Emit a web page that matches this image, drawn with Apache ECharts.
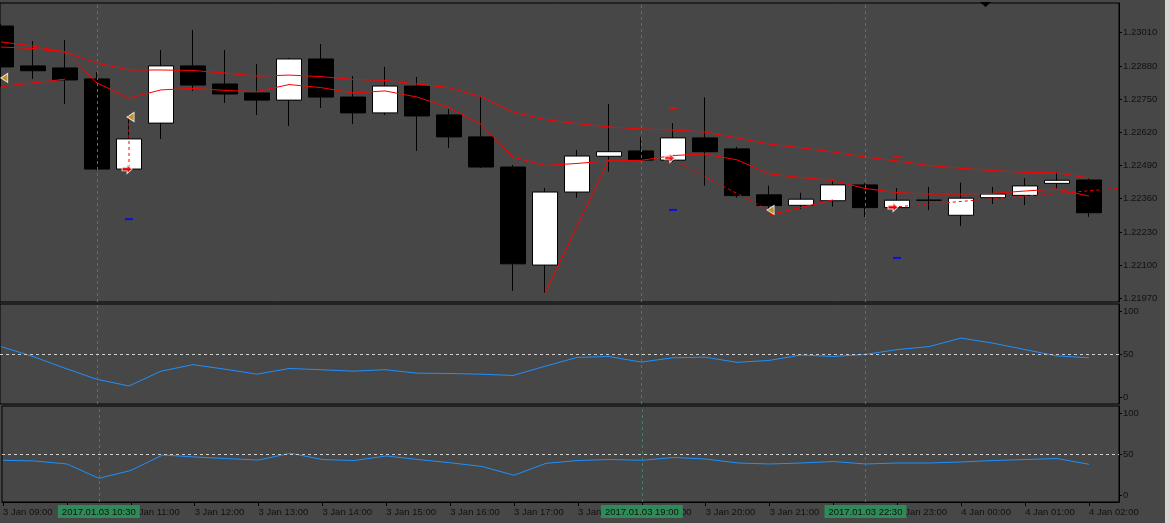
<!DOCTYPE html>
<html>
<head>
    <meta charset="utf-8">
    <title>EURUSD M30</title>
    <script src="https://cdn.jsdelivr.net/npm/echarts@6.0.0/dist/echarts.min.js"></script>
    <style>
        html, body { margin: 0; padding: 0; background: #474747; }
        #main { width: 1169px; height: 523px; }
    </style>
</head>
<body>
<div id="main"></div>
<script type="text/javascript">
    // bar labels on the time axis (one every 2 bars, M30)
    var timeLabels = ['3 Jan 09:00', '3 Jan 10:00', '3 Jan 11:00', '3 Jan 12:00', '3 Jan 13:00', '3 Jan 14:00',
        '3 Jan 15:00', '3 Jan 16:00', '3 Jan 17:00', '3 Jan 18:00', '3 Jan 19:00', '3 Jan 20:00', '3 Jan 21:00',
        '3 Jan 22:00', '3 Jan 23:00', '4 Jan 00:00', '4 Jan 01:00', '4 Jan 02:00'];

    // OHLC, one entry per bar
    var opens = [1.23036, 1.22880, 1.22872, 1.22829, 1.22476, 1.22656, 1.22880, 1.22809, 1.22774, 1.22746,
        1.22907, 1.22758, 1.22696, 1.22801, 1.22688, 1.22602, 1.22484, 1.22100, 1.22386, 1.22526,
        1.22547, 1.22511, 1.22598, 1.22555, 1.22375, 1.22334, 1.22352, 1.22414, 1.22325, 1.22354,
        1.22295, 1.22364, 1.22373, 1.22420, 1.22433];
    var highs = [1.23044, 1.22977, 1.22981, 1.22856, 1.22688, 1.22942, 1.23021, 1.22942, 1.22887, 1.22911,
        1.22966, 1.22840, 1.22876, 1.22837, 1.22711, 1.22761, 1.22492, 1.22402, 1.22551, 1.22731,
        1.22602, 1.22656, 1.22757, 1.22563, 1.22411, 1.22383, 1.22433, 1.22421, 1.22402, 1.22406,
        1.22423, 1.22406, 1.22440, 1.22463, 1.22440];
    var lows = [1.22797, 1.22829, 1.22731, 1.22472, 1.22472, 1.22594, 1.22782, 1.22735, 1.22688, 1.22645,
        1.22715, 1.22652, 1.22688, 1.22547, 1.22559, 1.22480, 1.21999, 1.21991, 1.22364, 1.22466,
        1.22508, 1.22504, 1.22411, 1.22364, 1.22312, 1.22320, 1.22329, 1.22288, 1.22320, 1.22315,
        1.22253, 1.22339, 1.22335, 1.22399, 1.22289];
    var closes = [1.22876, 1.22861, 1.22825, 1.22476, 1.22594, 1.22880, 1.22805, 1.22770, 1.22746, 1.22907,
        1.22758, 1.22696, 1.22801, 1.22684, 1.22602, 1.22484, 1.22105, 1.22386, 1.22527, 1.22544,
        1.22511, 1.22598, 1.22544, 1.22372, 1.22333, 1.22358, 1.22414, 1.22325, 1.22354, 1.22354,
        1.22362, 1.22378, 1.22410, 1.22432, 1.22305];

    // moving averages
    var maSlow = [1.22974, 1.22958, 1.22934, 1.22891, 1.22864, 1.22864, 1.22862, 1.22852, 1.22840, 1.22844,
        1.22838, 1.22827, 1.22823, 1.22809, 1.22795, 1.22759, 1.22700, 1.22670, 1.22654, 1.22641,
        1.22633, 1.22629, 1.22621, 1.22598, 1.22574, 1.22559, 1.22543, 1.22523, 1.22508, 1.22490,
        1.22479, 1.22470, 1.22463, 1.22461, 1.22441];
    var maFast = [1.22954, 1.22948, 1.22934, 1.22813, 1.22754, 1.22786, 1.22792, 1.22784, 1.22779, 1.22807,
        1.22795, 1.22774, 1.22782, 1.22758, 1.22717, 1.22651, 1.22523, 1.22490, 1.22498, 1.22508,
        1.22510, 1.22529, 1.22535, 1.22512, 1.22457, 1.22443, 1.22431, 1.22400, 1.22384, 1.22378,
        1.22378, 1.22381, 1.22390, 1.22398, 1.22370];

    // oscillators in the two lower windows
    var oscUpper = [59.3, 47.8, 34.1, 21.2, 13.5, 30.7, 38.3, 33.0, 27.2, 33.8,
        32.4, 30.7, 32.4, 28.4, 28.0, 27.2, 25.7, 36.4, 46.7, 47.8,
        41.3, 46.3, 47.0, 41.0, 43.2, 49.5, 47.8, 50.1, 55.8, 59.3,
        69.2, 63.3, 55.8, 48.4, 46.3];
    var oscLower = [43.0, 42.1, 38.5, 21.1, 30.6, 49.4, 47.0, 45.1, 43.3, 51.5,
        43.9, 42.7, 48.2, 43.9, 40.0, 35.4, 24.8, 39.3, 42.7, 43.9,
        43.0, 46.4, 44.5, 39.7, 38.5, 39.7, 41.5, 38.5, 39.7, 39.7,
        40.9, 42.7, 43.9, 45.1, 38.1];

    var priceTicks = [1.21970, 1.22100, 1.22230, 1.22360, 1.22490, 1.22620, 1.22750, 1.22880, 1.23010];
    var oscTicks = [0, 50, 100];
    var oscLevel = 50;

    // vertical markers (bar index) and their date boxes
    var markerBars = [3, 20, 27];
    var markerNames = ['2017.01.03 10:30', '2017.01.03 19:00', '2017.01.03 22:30'];

    // chart objects: [bar, price]
    var zigzag = [
        [[0, 1.22799], [2, 1.22828]],
        [[17, 1.21991], [19, 1.22514]],
        [[24, 1.22296], [26, 1.22355]]
    ];
    var tradeLines = [
        [[4, 1.22680], [4, 1.22476]],
        [[20.9, 1.22519], [23.97, 1.22316]],
        [[27.875, 1.22327], [34.875, 1.22400]]
    ];
    var closeArrows = [[0.1, 1.22833], [4.05, 1.22680], [24.05, 1.22316]];
    var openArrows = [[3.94, 1.22476], [20.9, 1.22519], [27.875, 1.22327]];
    var stopMarks = [[4, 1.22280], [21, 1.22316], [28, 1.22128]];
    var takeMarks = [[21, 1.22715], [28, 1.22523]];

    var myChart = echarts.init(document.getElementById('main'));

    var textColor = '#111111';
    var font = 'Liberation Sans';
    var fontSize = 9.5;
    var green = '#2e8b57';

    var candles = [];
    for (var i = 0; i < opens.length; i++) {
        candles.push([i, opens[i], closes[i], lows[i], highs[i]]);
    }
    function withIndex(arr) {
        return arr.map(function (v, k) { return [k, v]; });
    }
    var evenBars = timeLabels.map(function (t, k) { return k * 2; });

    function xAxisFor(gridIndex, showLabels) {
        return {
            type: 'value', gridIndex: gridIndex, min: -0.03125, max: 34.9375,
            splitLine: { show: false },
            axisLine: { show: showLabels, onZero: false, lineStyle: { color: '#000' } },
            axisTick: { show: showLabels, customValues: evenBars, length: 4, lineStyle: { color: '#000' } },
            axisLabel: {
                show: showLabels, customValues: evenBars, align: 'left', margin: 5,
                color: textColor, fontSize: fontSize, fontFamily: font,
                formatter: function (v) { return timeLabels[Math.round(v / 2)]; }
            }
        };
    }
    function yAxisFor(gridIndex, min, max, ticks, digits) {
        return {
            type: 'value', gridIndex: gridIndex, position: 'right', min: min, max: max,
            splitLine: { show: false },
            axisLine: { show: true, onZero: false, lineStyle: { color: '#000' } },
            axisTick: { show: true, customValues: ticks, length: 3, lineStyle: { color: '#000' } },
            axisLabel: {
                customValues: ticks, margin: 4, color: textColor, fontSize: fontSize, fontFamily: font,
                formatter: function (v) { return v.toFixed(digits); }
            }
        };
    }

    var vLines = markerBars.map(function (b) { return { xAxis: b }; });
    var vLinesLabeled = markerBars.map(function (b, k) {
        return {
            xAxis: b,
            label: {
                show: true, position: 'start', distance: 3, formatter: markerNames[k],
                backgroundColor: green, color: textColor, fontSize: fontSize, fontFamily: font,
                padding: [2, 4, 1, 4]
            }
        };
    });
    var levelLine = { yAxis: oscLevel, lineStyle: { color: '#d0d0d0', type: [3, 3] } };

    function markLines(data) {
        return {
            silent: true, symbol: ['none', 'none'], animation: false,
            label: { show: false },
            lineStyle: { color: green, type: [3, 3], width: 1 },
            data: data
        };
    }

    var series = [{
        name: 'price', type: 'candlestick', xAxisIndex: 0, yAxisIndex: 0,
        data: candles, encode: { x: 0, y: [1, 2, 3, 4] }, barWidth: 25,
        itemStyle: {
            color: '#ffffff', color0: '#000000', borderColor: '#000000', borderColor0: '#000000',
            borderColorDoji: '#000000', borderWidth: 1
        },
        markLine: markLines(vLines)
    }, {
        name: 'MA slow', type: 'line', xAxisIndex: 0, yAxisIndex: 0, data: withIndex(maSlow),
        showSymbol: false, lineStyle: { color: '#ff0000', width: 1 }
    }, {
        name: 'MA fast', type: 'line', xAxisIndex: 0, yAxisIndex: 0, data: withIndex(maFast),
        showSymbol: false, lineStyle: { color: '#ff0000', width: 1 }
    }];

    zigzag.forEach(function (seg) {
        series.push({
            type: 'line', xAxisIndex: 0, yAxisIndex: 0, data: seg, showSymbol: false,
            lineStyle: { color: '#ff0000', width: 1 }
        });
    });
    tradeLines.forEach(function (seg) {
        series.push({
            type: 'line', xAxisIndex: 0, yAxisIndex: 0, data: seg, showSymbol: false,
            lineStyle: { color: '#ff0000', width: 1, type: [3, 3] }
        });
    });

    series.push({
        type: 'scatter', xAxisIndex: 0, yAxisIndex: 0, data: stopMarks,
        symbol: 'rect', symbolSize: [8, 2], itemStyle: { color: '#0000ff' }, z: 5
    }, {
        type: 'scatter', xAxisIndex: 0, yAxisIndex: 0, data: takeMarks,
        symbol: 'rect', symbolSize: [8, 2], itemStyle: { color: '#ff0000' }, z: 5
    }, {
        type: 'scatter', xAxisIndex: 0, yAxisIndex: 0, data: closeArrows,
        symbol: 'triangle', symbolRotate: 90, symbolSize: [9, 7],
        itemStyle: { color: '#daa520', borderColor: '#ffffff', borderWidth: 1 }, z: 6
    }, {
        type: 'scatter', xAxisIndex: 0, yAxisIndex: 0, data: openArrows,
        symbol: 'path://M0,3 L5,3 L5,0 L10,5 L5,10 L5,7 L0,7 Z', symbolSize: [10, 9],
        itemStyle: { color: '#ff0000', borderColor: '#ffffff', borderWidth: 1 }, z: 6
    });

    series.push({
        name: 'osc 1', type: 'line', xAxisIndex: 1, yAxisIndex: 1, data: withIndex(oscUpper),
        showSymbol: false, lineStyle: { color: '#1e90ff', width: 1 },
        markLine: markLines(vLines.concat([levelLine]))
    }, {
        name: 'osc 2', type: 'line', xAxisIndex: 2, yAxisIndex: 2, data: withIndex(oscLower),
        showSymbol: false, lineStyle: { color: '#1e90ff', width: 1 },
        markLine: markLines(vLinesLabeled.concat([levelLine]))
    });

    var option = {
        animation: false,
        backgroundColor: '#474747',
        grid: [
            { left: -1, top: 3, width: 1120, height: 299, show: true, borderColor: '#000', borderWidth: 1 },
            { left: -1, top: 304, width: 1120, height: 100, show: true, borderColor: '#000', borderWidth: 1 },
            { left: -1, top: 406, width: 1120, height: 96, show: true, borderColor: '#000', borderWidth: 1 }
        ],
        xAxis: [xAxisFor(0, false), xAxisFor(1, false), xAxisFor(2, true)],
        yAxis: [
            yAxisFor(0, 1.219554, 1.231263, priceTicks, 5),
            yAxisFor(1, -7.49, 108.87, oscTicks, 0),
            yAxisFor(2, -7.65, 108.86, oscTicks, 0)
        ],
        series: series,
        graphic: [
            { type: 'polygon', shape: { points: [[980, 2], [991, 2], [985.5, 7]] }, style: { fill: '#000' } },
            { type: 'rect', shape: { x: 1165, y: 0, width: 4, height: 523 }, style: { fill: '#d6d6d6' } }
        ]
    };

    myChart.setOption(option);
</script>
</body>
</html>
